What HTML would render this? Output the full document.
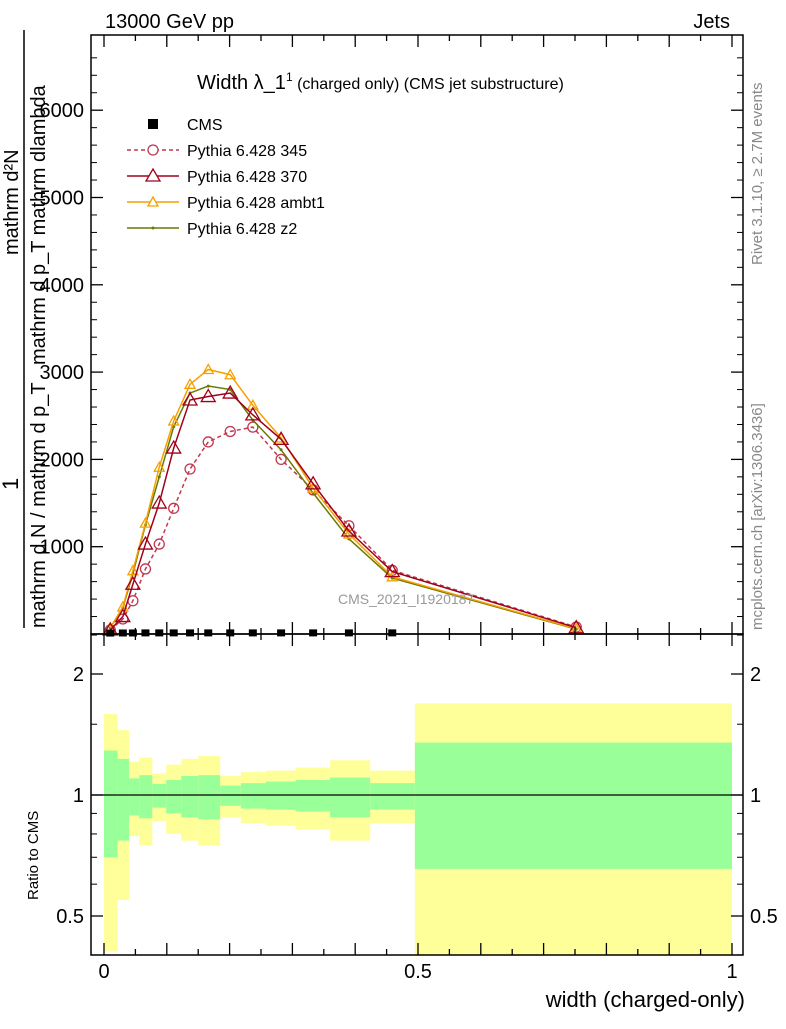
<!DOCTYPE html>
<html><head><meta charset="utf-8"><style>
body{margin:0;background:#fff;font-family:"Liberation Sans",sans-serif}
svg text{font-family:"Liberation Sans",sans-serif}
</style></head><body>
<svg id="c" width="786" height="1024" xmlns="http://www.w3.org/2000/svg">
<rect width="786" height="1024" fill="#fff"/>
<g id="ratioBands"></g>
<g id="mainMarks"></g>
<rect x="91" y="35" width="652" height="599" fill="none" stroke="#000" stroke-width="1.5"/>
<rect x="91" y="634" width="652" height="321" fill="none" stroke="#000" stroke-width="1.5"/>
<g id="axes"></g>
<text x="105" y="28" font-size="20">13000 GeV pp</text>
<text x="730" y="28" font-size="20" text-anchor="end">Jets</text>
<text x="197" y="89" font-size="20">Width λ_1<tspan font-size="12" dy="-8">1</tspan><tspan font-size="16" dy="8"> (charged only) (CMS jet substructure)</tspan></text>
<text x="338" y="604" font-size="14" fill="#999">CMS_2021_I1920187</text>
<text transform="translate(762,265) rotate(-90)" font-size="15" fill="#888">Rivet 3.1.10, ≥ 2.7M events</text>
<text transform="translate(762,630) rotate(-90)" font-size="15" fill="#888">mcplots.cern.ch [arXiv:1306.3436]</text>
<g>
<text transform="translate(18,490) rotate(-90)" font-size="22">1</text>
<text transform="translate(18,255) rotate(-90)" font-size="20">mathrm d²N</text>
<text transform="translate(45,365) rotate(-90)" font-size="20">mathrm d p_T mathrm dlambda</text>
<text transform="translate(45,628) rotate(-90)" font-size="20">mathrm d N / mathrm d p_T</text>
<line x1="24" y1="628" x2="24" y2="30" stroke="#000" stroke-width="1.5"/>
</g>
<text transform="translate(38,900) rotate(-90)" font-size="15">Ratio to CMS</text>
<text x="745" y="1007" font-size="22" text-anchor="end">width (charged-only)</text>
<g id="legend"></g>
</svg>
<script>
const edges=[0,0.0217,0.040,0.056,0.077,0.099,0.123,0.150,0.185,0.218,0.258,0.305,0.360,0.424,0.495,1.0];
const centers=[0.010,0.030,0.046,0.066,0.088,0.111,0.137,0.166,0.201,0.237,0.282,0.333,0.390,0.459,0.752];
const cms=[5,6,6,7,7,7,7,7,7,7,7,7,7,7,5];
const p345=[46,172,381,745,1030,1440,1890,2200,2320,2370,2000,1650,1240,730,80];
const p370=[46,200,570,1030,1500,2130,2680,2720,2760,2510,2230,1720,1180,715,72];
const pAmbt1=[70,310,725,1270,1910,2440,2860,3030,2970,2620,2245,1670,1145,655,60];
const pZ2=[70,300,690,1250,1800,2375,2760,2840,2800,2450,2110,1615,1090,640,55];
const yellowUp=[1.59,1.45,1.21,1.24,1.13,1.19,1.23,1.25,1.115,1.14,1.15,1.17,1.22,1.15,1.69];
const yellowDn=[0.408,0.548,0.79,0.75,0.86,0.80,0.77,0.75,0.88,0.85,0.84,0.82,0.77,0.85,0.35];
const greenUp=[1.29,1.23,1.10,1.12,1.065,1.09,1.115,1.12,1.055,1.07,1.08,1.09,1.105,1.07,1.35];
const greenDn=[0.70,0.77,0.89,0.875,0.93,0.90,0.88,0.87,0.94,0.925,0.92,0.91,0.88,0.92,0.655];
const mainTicks=[1000,2000,3000,4000,5000,6000];
const xTickLabels=["0","0.5","1"];
const xTickVals=[0,0.5,1];
const ratioTickVals=[0.5,1,2];
const ratioTickLabels=["0.5","1","2"];

const NS="http://www.w3.org/2000/svg";
const X=v=>104+628*v;
const Y=v=>634-0.0873*v;
const R=r=>{let y=795-121*Math.log2(r);return Math.max(634,Math.min(955,y));};
function mk(tag,attrs,parent){const e=document.createElementNS(NS,tag);for(const k in attrs)e.setAttribute(k,attrs[k]);parent.appendChild(e);return e;}

const rb=document.getElementById('ratioBands');
for(let i=0;i<centers.length;i++){
  const x0=X(edges[i]),x1=X(edges[i+1]);
  let r=mk('rect',{x:x0,y:R(yellowUp[i]),width:x1-x0,height:R(yellowDn[i])-R(yellowUp[i]),fill:'#ffff99'},rb);
  
  
  let g=mk('rect',{x:x0,y:R(greenUp[i]),width:x1-x0,height:R(greenDn[i])-R(greenUp[i]),fill:'#99ff99'},rb);
  
  
}
let one=mk('line',{x1:91,x2:743,y1:R(1),y2:R(1),stroke:'#000','stroke-width':1.3},rb);



const mm=document.getElementById('mainMarks');
function series(vals,color,dash,marker,name){
  const g=mk('g',{},mm);
  
  
  mk('polyline',{points:vals.map((v,i)=>X(centers[i])+','+Y(v)).join(' '),fill:'none',stroke:color,'stroke-width':1.5,'stroke-dasharray':dash},g);
  vals.forEach((v,i)=>{const x=X(centers[i]),y=Y(v);
    if(marker==='circle')mk('circle',{cx:x,cy:y,r:5,fill:'none',stroke:color,'stroke-width':1.3},g);
    else if(marker==='tri')mk('polygon',{points:`${x},${y-7} ${x-7},${y+5} ${x+7},${y+5}`,fill:'none',stroke:color,'stroke-width':1.3},g);
    else if(marker==='stri')mk('polygon',{points:`${x},${y-5} ${x-5},${y+4} ${x+5},${y+4}`,fill:'none',stroke:color,'stroke-width':1.3},g);
    else mk('circle',{cx:x,cy:y,r:1.5,fill:color},g);
  });
}
series(p345,'#c0384f','4,3','circle','series-pythia-345');
series(pZ2,'#6b7a00','','dot','series-pythia-z2');
series(pAmbt1,'#f5a000','','stri','series-pythia-ambt1');
series(p370,'#a0001a','','tri','series-pythia-370');
const cg=mk('g',{},mm);


cms.forEach((v,i)=>{if(i<14)mk('rect',{x:X(centers[i])-4,y:Y(v)-4,width:8,height:7,fill:'#000'},cg);});

const ax=document.getElementById('axes');
mainTicks.forEach((v,i)=>{mk('line',{x1:91,x2:103,y1:Y(v),y2:Y(v),stroke:'#000','stroke-width':1.3},ax);
  mk('line',{x1:731,x2:743,y1:Y(v),y2:Y(v),stroke:'#000','stroke-width':1.3},ax);
  const t=mk('text',{x:84,y:Y(v)+7,'font-size':20,'text-anchor':'end'},ax);t.textContent=String(v);
  
  });
for(let v=200;v<6800;v+=200){if(v%1000)
  {mk('line',{x1:91,x2:97,y1:Y(v),y2:Y(v),stroke:'#000'},ax);mk('line',{x1:737,x2:743,y1:Y(v),y2:Y(v),stroke:'#000'},ax);}}
for(let v=0;v<=1.001;v+=0.05){const big=Math.abs(v*10-Math.round(v*10))<1e-6;const L=big?12:6;
  mk('line',{x1:X(v),x2:X(v),y1:634,y2:634-L,stroke:'#000','stroke-width':1.3},ax);
  mk('line',{x1:X(v),x2:X(v),y1:35,y2:35+L,stroke:'#000','stroke-width':1.3},ax);
  mk('line',{x1:X(v),x2:X(v),y1:955,y2:955-L,stroke:'#000','stroke-width':1.3},ax);
  mk('line',{x1:X(v),x2:X(v),y1:634,y2:634+L,stroke:'#000','stroke-width':1.3},ax);}
xTickVals.forEach((v,i)=>{const t=mk('text',{x:X(v),y:978,'font-size':20,'text-anchor':'middle'},ax);t.textContent=xTickLabels[i];
  
  });
ratioTickVals.forEach((v,i)=>{mk('line',{x1:91,x2:103,y1:R(v),y2:R(v),stroke:'#000','stroke-width':1.3},ax);
  mk('line',{x1:731,x2:743,y1:R(v),y2:R(v),stroke:'#000','stroke-width':1.3},ax);
  const t=mk('text',{x:84,y:R(v)+7,'font-size':20,'text-anchor':'end'},ax);t.textContent=ratioTickLabels[i];
  
  
  const t2=mk('text',{x:750,y:R(v)+7,'font-size':20},ax);t2.textContent=ratioTickLabels[i];
  
  });
[0.4,0.6,0.7,0.8,0.9,1.5,2.5].forEach(v=>{mk('line',{x1:91,x2:97,y1:R(v),y2:R(v),stroke:'#000'},ax);mk('line',{x1:737,x2:743,y1:R(v),y2:R(v),stroke:'#000'},ax);});

const lg=document.getElementById('legend');
const items=[['CMS','#000','','sq'],['Pythia 6.428 345','#c0384f','4,3','circle'],['Pythia 6.428 370','#a0001a','','tri'],['Pythia 6.428 ambt1','#f5a000','','stri'],['Pythia 6.428 z2','#6b7a00','','dot']];
items.forEach((it,i)=>{const y=124+26*i;const g=mk('g',{},lg);
  
  
  if(it[3]==='sq')mk('rect',{x:148,y:y-5,width:10,height:10,fill:'#000'},g);
  else{mk('line',{x1:127,x2:179,y1:y,y2:y,stroke:it[1],'stroke-width':1.5,'stroke-dasharray':it[2]},g);
    if(it[3]==='circle')mk('circle',{cx:153,cy:y,r:5,fill:'#fff',stroke:it[1],'stroke-width':1.3},g);
    else if(it[3]==='tri')mk('polygon',{points:`153,${y-7} 146,${y+5} 160,${y+5}`,fill:'#fff',stroke:it[1],'stroke-width':1.3},g);
    else if(it[3]==='stri')mk('polygon',{points:`153,${y-5} 148,${y+4} 158,${y+4}`,fill:'#fff',stroke:it[1],'stroke-width':1.3},g);
    else mk('circle',{cx:153,cy:y,r:1.5,fill:it[1]},g);}
  const t=mk('text',{x:187,y:y+6,'font-size':16},g);t.textContent=it[0];});
</script>
</body></html>
